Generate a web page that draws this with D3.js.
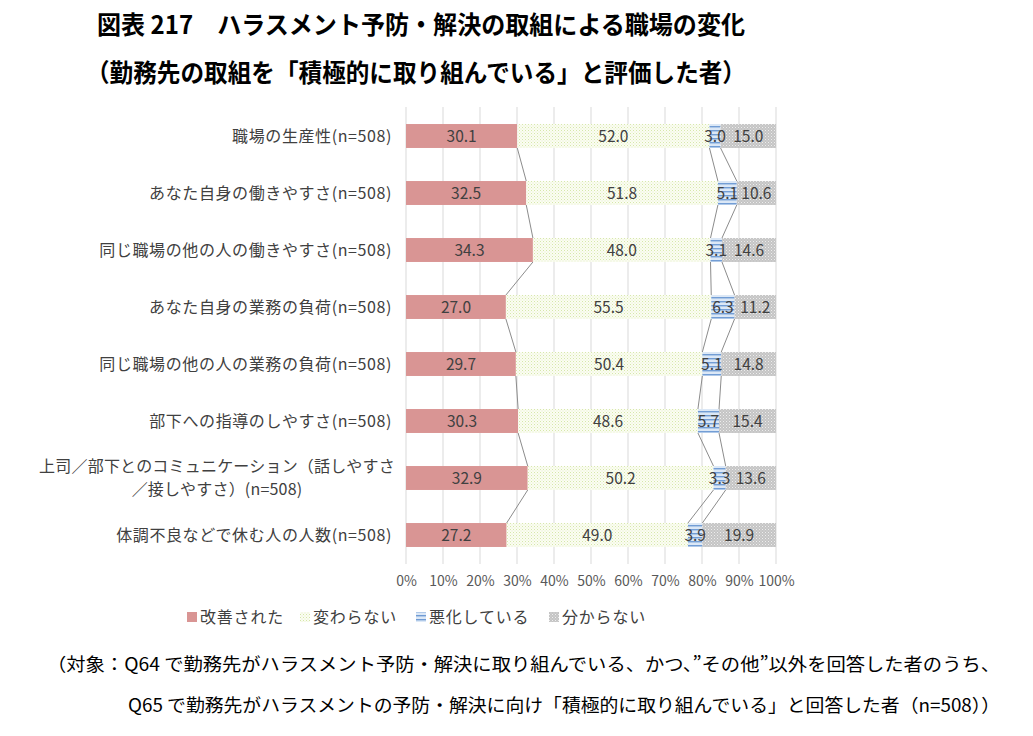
<!DOCTYPE html>
<html lang="ja">
<head>
<meta charset="UTF-8">
<title>図表 217 ハラスメント予防・解決の取組による職場の変化</title>
<script src="https://d3js.org/d3.v7.min.js"></script>
<style>
  body { margin: 0; background: #fff; }
  svg text { font-family: "Noto Sans CJK JP", "Noto Sans", sans-serif; }
</style>
</head>
<body>
<div id="chart"></div>
<script>
// カテゴリ(上から順)
const categories = [
    "職場の生産性(n=508)",
    "あなた自身の働きやすさ(n=508)",
    "同じ職場の他の人の働きやすさ(n=508)",
    "あなた自身の業務の負荷(n=508)",
    "同じ職場の他の人の業務の負荷(n=508)",
    "部下への指導のしやすさ(n=508)",
    "上司／部下とのコミュニケーション（話しやすさ\n／接しやすさ）(n=508)",
    "体調不良などで休む人の人数(n=508)"
];
const seriesNames = ["改善された", "変わらない", "悪化している", "分からない"];

// 系列ごとの値(%)
const improved  = [30.1, 32.5, 34.3, 27.0, 29.7, 30.3, 32.9, 27.2];
const unchanged = [52.0, 51.8, 48.0, 55.5, 50.4, 48.6, 50.2, 49.0];
const worsened  = [3.0, 5.1, 3.1, 6.3, 5.1, 5.7, 3.3, 3.9];
const unknown   = [15.0, 10.6, 14.6, 11.2, 14.8, 15.4, 13.6, 19.9];

const xTicks = [0, 10, 20, 30, 40, 50, 60, 70, 80, 90, 100];

const W = 1033, H = 736;
const svg = d3.select("#chart").append("svg")
    .attr("width", W).attr("height", H);

// 塗りパターン
const defs = svg.append("defs");
const pGreen = defs.append("pattern").attr("id", "pGreen")
    .attr("width", 3).attr("height", 3).attr("patternUnits", "userSpaceOnUse");
pGreen.append("rect").attr("width", 3).attr("height", 3).attr("fill", "#fbfdf3");
pGreen.append("rect").attr("width", 1).attr("height", 1).attr("fill", "#d5e6a8");
pGreen.append("rect").attr("x", 1.5).attr("y", 1.5).attr("width", 1).attr("height", 1).attr("fill", "#e3eec6");

const pBlue = defs.append("pattern").attr("id", "pBlue")
    .attr("width", 4).attr("height", 4).attr("patternUnits", "userSpaceOnUse");
pBlue.append("rect").attr("width", 4).attr("height", 4).attr("fill", "#dce8f6");
pBlue.append("rect").attr("y", 2).attr("width", 4).attr("height", 1.4).attr("fill", "#6f9bd4");

const pGray = defs.append("pattern").attr("id", "pGray")
    .attr("width", 3).attr("height", 3).attr("patternUnits", "userSpaceOnUse");
pGray.append("rect").attr("width", 3).attr("height", 3).attr("fill", "#c4c4c4");
pGray.append("rect").attr("width", 1).attr("height", 1).attr("fill", "#eeeeee");
pGray.append("rect").attr("x", 1.5).attr("y", 1.5).attr("width", 1).attr("height", 1).attr("fill", "#e2e2e2");

const fills = ["#d99594", "url(#pGreen)", "url(#pBlue)", "url(#pGray)"];

// データ整形(100%積み上げ)
const rows = categories.map((c, i) => {
    const vals = [improved[i], unchanged[i], worsened[i], unknown[i]];
    const total = d3.sum(vals);
    let acc = 0;
    const segs = vals.map((v, k) => {
        const s = { key: k, value: v, x0: acc / total * 100, x1: (acc + v) / total * 100 };
        acc += v;
        return s;
    });
    return { cat: c, segs };
});

const x = d3.scaleLinear().domain([0, 100]).range([406, 776]);
const y = d3.scaleBand().domain(categories).range([107.5, 563.5]).paddingInner(0.58).paddingOuter(0.29);

// グリッド線
svg.append("g").selectAll("line").data(xTicks).join("line")
    .attr("x1", d => x(d)).attr("x2", d => x(d))
    .attr("y1", 107).attr("y2", 564)
    .attr("stroke", "#d9d9d9").attr("stroke-width", 1);

// 区分線(系列線)
const seriesLines = svg.append("g");
for (let i = 0; i < rows.length - 1; i++) {
    for (let k = 0; k < 3; k++) {
        seriesLines.append("line")
            .attr("x1", x(rows[i].segs[k].x1))
            .attr("y1", y(rows[i].cat) + y.bandwidth())
            .attr("x2", x(rows[i + 1].segs[k].x1))
            .attr("y2", y(rows[i + 1].cat))
            .attr("stroke", "#8c8c8c").attr("stroke-width", 1);
    }
}

// 棒
const bars = svg.append("g").selectAll("g").data(rows).join("g")
    .attr("transform", d => `translate(0,${y(d.cat)})`);
bars.selectAll("rect").data(d => d.segs).join("rect")
    .attr("x", d => x(d.x0))
    .attr("width", d => x(d.x1) - x(d.x0))
    .attr("height", y.bandwidth())
    .attr("fill", d => fills[d.key]);

// 値ラベル
bars.selectAll("text").data(d => d.segs).join("text")
    .attr("x", d => (x(d.x0) + x(d.x1)) / 2)
    .attr("y", y.bandwidth() / 2)
    .attr("dy", "0.36em")
    .attr("text-anchor", "middle")
    .attr("font-size", "15.5px")
    .attr("fill", "#404040")
    .text(d => d.value.toFixed(1));

// カテゴリラベル
svg.append("g").selectAll("text").data(categories).join("text")
    .each(function(d) {
        const t = d3.select(this);
        const lines = d.split("\n");
        const cy = y(d) + y.bandwidth() / 2;
        t.attr("font-size", "16px").attr("fill", "#404040");
        if (lines.length === 1) {
            t.attr("x", 392).attr("y", cy).attr("dy", "0.36em")
                .attr("letter-spacing", "0.6px")
                .attr("text-anchor", "end").text(d);
        } else {
            t.attr("text-anchor", "middle").attr("letter-spacing", "0.2px");
            lines.forEach((ln, j) => {
                t.append("tspan").attr("x", 217)
                    .attr("y", cy + (j - (lines.length - 1) / 2) * 23)
                    .attr("dy", "0.36em").text(ln);
            });
        }
    });

// X軸
const xAxis = svg.append("g")
    .attr("transform", "translate(0,574)")
    .call(d3.axisBottom(x).tickValues(xTicks).tickFormat(d => d + "%").tickSize(0).tickPadding(2));
xAxis.select(".domain").remove();
xAxis.selectAll("text").attr("font-size", "14px").attr("fill", "#595959")
    .style("font-family", "\"Noto Sans CJK JP\", sans-serif");

// 凡例
const legendX = [187, 300, 416, 549];
const legend = svg.append("g").selectAll("g").data(seriesNames).join("g")
    .attr("transform", (d, i) => `translate(${legendX[i]},617)`);
legend.append("rect").attr("x", 0).attr("y", -5).attr("width", 10).attr("height", 10)
    .attr("fill", (d, i) => fills[i]);
legend.append("text").attr("x", 13).attr("dy", "0.36em")
    .attr("font-size", "16px").attr("fill", "#404040").attr("letter-spacing", "0.8px")
    .text(d => d);

// タイトル
svg.append("text").attr("x", 97).attr("y", 34)
    .attr("font-size", "25px").attr("font-weight", "bold").attr("fill", "#000")
    .attr("textLength", 648).attr("lengthAdjust", "spacingAndGlyphs")
    .text("図表 217　ハラスメント予防・解決の取組による職場の変化");
svg.append("text").attr("x", 86).attr("y", 82)
    .attr("font-size", "25px").attr("font-weight", "bold").attr("fill", "#000")
    .attr("textLength", 660).attr("lengthAdjust", "spacingAndGlyphs")
    .text("（勤務先の取組を「積極的に取り組んでいる」と評価した者）");

// 注記
svg.append("text").attr("x", 47).attr("y", 671)
    .attr("font-size", "18px").attr("fill", "#000")
    .attr("textLength", 953).attr("lengthAdjust", "spacingAndGlyphs")
    .text("（対象：Q64 で勤務先がハラスメント予防・解決に取り組んでいる、かつ、”その他”以外を回答した者のうち、");
svg.append("text").attr("x", 128).attr("y", 712)
    .attr("font-size", "18px").attr("fill", "#000")
    .attr("textLength", 872).attr("lengthAdjust", "spacingAndGlyphs")
    .text("Q65 で勤務先がハラスメントの予防・解決に向け「積極的に取り組んでいる」と回答した者（n=508））");
</script>
</body>
</html>
